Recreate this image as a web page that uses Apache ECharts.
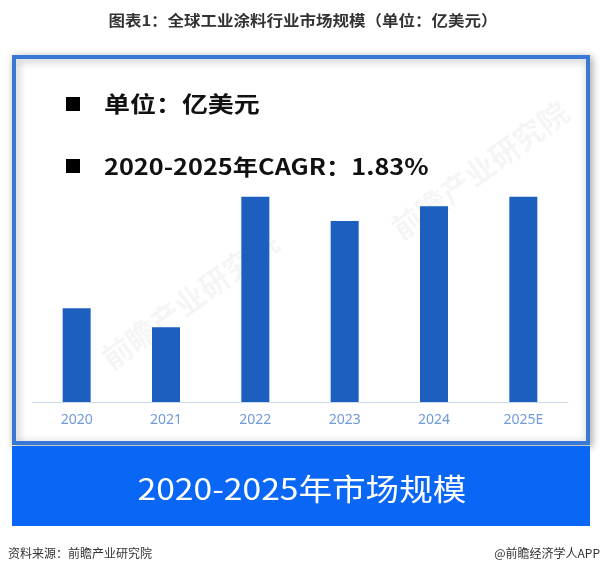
<!DOCTYPE html>
<html>
<head>
<meta charset="utf-8">
<script src="https://cdn.jsdelivr.net/npm/echarts@6/dist/echarts.min.js"></script>
<style>html,body{margin:0;padding:0;background:#fff}#c{width:606px;height:576px}</style>
</head>
<body>
<div id="c"></div>
<script>
const categories = ['2020', '2021', '2022', '2023', '2024', '2025E'];
const marketSize = [849, 835, 931, 913, 924, 931];
const titleText = '图表1：全球工业涂料行业市场规模（单位：亿美元）';
const unitText = '单位：亿美元';
const cagrText = '2020-2025年CAGR：1.83%';
const bandText = '2020-2025年市场规模';
const sourceText = '资料来源：前瞻产业研究院';
const brandText = '@前瞻经济学人APP';

const CJK = '"Noto Sans CJK SC", "Noto Sans", sans-serif';
const chart = echarts.init(document.getElementById('c'), null, {renderer: 'canvas'});
chart.setOption({
  backgroundColor: '#fff',
  animation: false,
  grid: {left: 32, right: 38, top: 130, bottom: 174},
  xAxis: {
    type: 'category', data: categories,
    axisLine: {lineStyle: {color: '#c9d9ee', width: 1}},
    axisTick: {show: false},
    axisLabel: {color: '#6f9bd9', fontSize: 14, fontFamily: '"Noto Sans", sans-serif', margin: 11}
  },
  yAxis: {type: 'value', min: 780, max: 980, show: false, splitLine: {show: false}},
  series: [{
    type: 'bar', data: marketSize, barWidth: 28,
    itemStyle: {color: '#1d5fbf'}
  }],
  graphic: [
    {type: 'text', z: 10, x: 303, y: 20, scaleX: 1.1, style: {text: titleText, fill: '#333', font: 'bold 15px ' + CJK, textAlign: 'center', textVerticalAlign: 'middle'}},
    {type: 'rect', z: -10, shape: {x: 14, y: 57, width: 574, height: 386},
      style: {fill: '#fff', stroke: '#3a78d6', lineWidth: 4, shadowBlur: 8, shadowColor: 'rgba(0,0,0,0.3)', shadowOffsetX: 2, shadowOffsetY: 2}},
    {type: 'rect', z: -9, shape: {x: 12, y: 446, width: 578, height: 80}, style: {fill: '#0a66f5'}},
    {type: 'text', z: 10, x: 302, y: 489, scaleX: 1.12, style: {text: bandText, fill: '#fff', font: '30px ' + CJK, textAlign: 'center', textVerticalAlign: 'middle'}},
    {type: 'rect', z: 10, shape: {x: 66, y: 97, width: 14, height: 14}, style: {fill: '#000'}},
    {type: 'text', z: 10, x: 104, y: 104, scaleX: 1.18, style: {text: unitText, fill: '#111', font: 'bold 22px ' + CJK, textVerticalAlign: 'middle'}},
    {type: 'rect', z: 10, shape: {x: 66, y: 159, width: 14, height: 14}, style: {fill: '#000'}},
    {type: 'text', z: 10, x: 104, y: 167, scaleX: 1.15, style: {text: cagrText, fill: '#111', font: 'bold 22px ' + CJK, textVerticalAlign: 'middle'}},
    {type: 'text', z: 10, x: 8, y: 553, style: {text: sourceText, fill: '#333', font: '12px ' + CJK, textVerticalAlign: 'middle'}},
    {type: 'text', z: 10, x: 600, y: 553, style: {text: brandText, fill: '#333', font: '12px ' + CJK, textAlign: 'right', textVerticalAlign: 'middle'}},
    {type: 'text', z: -5, x: 190, y: 300, rotation: Math.PI / 5, style: {text: '前瞻产业研究院', fill: 'rgba(0,0,0,0.04)', font: 'bold 30px ' + CJK, textAlign: 'center', textVerticalAlign: 'middle'}},
    {type: 'text', z: -5, x: 480, y: 170, rotation: Math.PI / 5, style: {text: '前瞻产业研究院', fill: 'rgba(0,0,0,0.04)', font: 'bold 30px ' + CJK, textAlign: 'center', textVerticalAlign: 'middle'}}
  ]
});
</script>
</body>
</html>
